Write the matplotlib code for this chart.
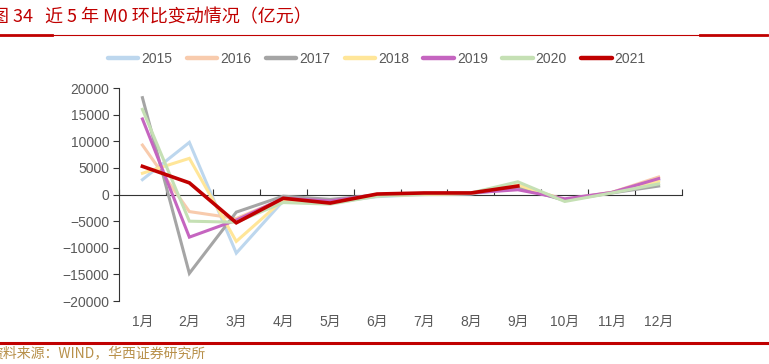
import numpy as np
import matplotlib
matplotlib.use("Agg")
import matplotlib.pyplot as plt
from matplotlib.lines import Line2D

plt.rcParams['font.family'] = ['Noto Sans CJK SC', 'DejaVu Sans']
TICKFONT = ['Liberation Sans', 'Noto Sans CJK SC']

months = ["1月", "2月", "3月", "4月", "5月", "6月", "7月", "8月", "9月", "10月", "11月", "12月"]
years = ["2015", "2016", "2017", "2018", "2019", "2020", "2021"]

m0_2015 = [2800, 9800, -11000, -1200, -1500, -400, 0, 100, 1300, -1000, 400, 2800]
m0_2016 = [9300, -3200, -4500, -800, -1400, -200, 100, 200, 1500, -900, 400, 3300]
m0_2017 = [18200, -14800, -3300, -300, -900, -100, 100, 200, 1400, -1100, 300, 1600]
m0_2018 = [4000, 6800, -8800, -1000, -1500, -200, 0, 200, 1800, -1000, 400, 2500]
m0_2019 = [14200, -8000, -4800, -700, -1200, 0, 200, 300, 900, -800, 400, 3000]
m0_2020 = [16000, -5000, -5200, -1500, -1800, -300, 100, 300, 2400, -1300, 300, 2000]
m0_2021 = [5300, 2200, -5300, -700, -1600, 100, 300, 300, 1600]

series = [m0_2015, m0_2016, m0_2017, m0_2018, m0_2019, m0_2020, m0_2021]
colors = ["#BDD7EE", "#F8CBAD", "#A5A5A5", "#FFE699", "#C565C0", "#C5E0B4", "#C00000"]
widths = [2.2, 2.2, 2.2, 2.2, 2.2, 2.2, 2.6]

fig = plt.figure(figsize=(7.69, 3.64), dpi=100)
ax = fig.add_axes([0.1547, 0.173, 0.887 - 0.1547, 0.758 - 0.173])

x = np.arange(1, 13)
handles = []
for yr, vals, c, w in zip(years, series, colors, widths):
    ax.plot(x[:len(vals)], vals, color=c, lw=w, solid_joinstyle="miter", zorder=3)
    handles.append(Line2D([0], [0], color=c, lw=3.2, solid_capstyle="round"))

ax.set_xlim(0.5, 12.5)
ax.set_ylim(-20000, 20000)
ax.set_yticks(np.arange(-20000, 20001, 5000))
ax.tick_params(axis="y", direction="out", length=4, width=0.8, colors="#333333",
               labelcolor="#595959", labelsize=10, pad=3)
for lab in ax.get_yticklabels():
    lab.set_family(TICKFONT)
for s in ["top", "right"]:
    ax.spines[s].set_visible(False)
ax.spines["left"].set_color("#333333")
ax.spines["left"].set_linewidth(0.8)
ax.spines["bottom"].set_position(("data", 0))
ax.spines["bottom"].set_color("#333333")
ax.spines["bottom"].set_linewidth(0.8)
ax.set_xticks(np.arange(0.5, 12.6, 1))
ax.tick_params(axis="x", direction="in", length=4, width=0.8, colors="#333333", labelbottom=False)

sec = ax.secondary_xaxis(location=0)
sec.set_xticks(x)
sec.set_xticklabels(months, family=TICKFONT)
sec.spines["bottom"].set_visible(False)
sec.tick_params(length=0, pad=10, labelsize=10, labelcolor="#595959")

fig.legend(handles, years, loc="center", bbox_to_anchor=(0.49, 0.838), ncol=7, frameon=False,
           handlelength=2.2, handletextpad=0.2, columnspacing=1.05,
           labelcolor="#595959", prop={"family": TICKFONT, "size": 10})

fig.text(-0.012, 0.953, "图 34   近 5 年 M0 环比变动情况（亿元）", color="#C00000",
         fontsize=13, va="center", ha="left")
fig.add_artist(Line2D([0, 1], [0.903, 0.903], color="#C00000", lw=0.8))
fig.add_artist(Line2D([0, 0.068], [0.903, 0.903], color="#C00000", lw=2.0))
fig.add_artist(Line2D([0.91, 0.997], [0.903, 0.903], color="#C00000", lw=2.0))
fig.add_artist(Line2D([0, 1], [0.0585, 0.0585], color="#C00000", lw=2.2))
fig.text(-0.014, 0.03, "资料来源：WIND，华西证券研究所", color="#B8904A",
         fontsize=10, va="center", ha="left")

fig.savefig("out.png", dpi=100)
